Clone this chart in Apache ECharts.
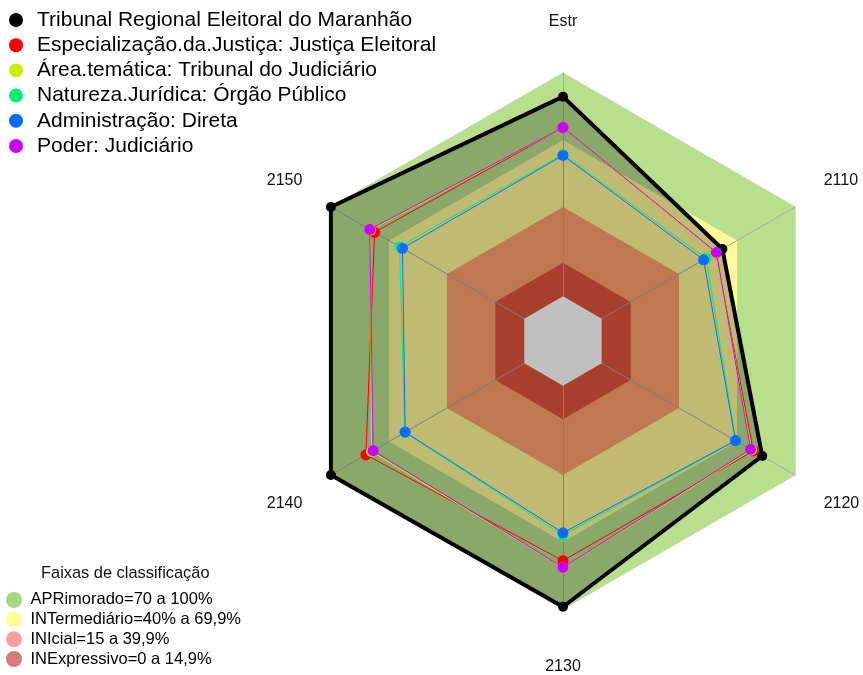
<!DOCTYPE html>
<html>
<head>
<meta charset="utf-8">
<script src="https://cdn.jsdelivr.net/npm/echarts@6/dist/echarts.min.js"></script>
<style>
html,body{margin:0;padding:0;background:#fff;}
#chart{width:863px;height:675px;}
</style>
</head>
<body>
<div id="chart"></div>
<script>
// Indicators in ECharts (counter-clockwise) order: top, upper-left, lower-left, bottom, lower-right, upper-right
var indicatorNames = ['Estr', '2150', '2140', '2130', '2120', '2110'];

var seriesNames = [
  'Tribunal Regional Eleitoral do Maranhão',
  'Especialização.da.Justiça: Justiça Eleitoral',
  'Área.temática: Tribunal do Judiciário',
  'Natureza.Jurídica: Órgão Público',
  'Administração: Direta',
  'Poder: Judiciário'
];
var seriesColors = ['#000000', '#ff0000', '#ccee00', '#00ee77', '#0a6cff', '#cc00ff'];

var valsTRE        = [89.4, 100, 100, 99, 83, 62.4];
var valsEspecial   = [75.5, 77.4, 81.9, 78.4, 78.4, 59];
var valsArea       = [75.5, 79.5, 79, 81.5, 77.5, 59];
var valsNatureza   = [63.5, 64.5, 61.8, 67, 69.3, 54];
var valsAdmin      = [63.1, 63, 61.6, 65.9, 69.2, 52.7];
var valsPoder      = [75.6, 79.9, 78.2, 81.4, 77, 59.3];
var allVals = [valsTRE, valsEspecial, valsArea, valsNatureza, valsAdmin, valsPoder];

var bandNames = ['APRimorado=70 a 100%', 'INTermediário=40% a 69,9%', 'INIcial=15 a 39,9%', 'INExpressivo=0 a 14,9%'];
var bandLevels = [100, 70, 40, 15];
var bandFill = ['#b8e08c', '#fffa9a', '#ffa06b', '#e0553b'];
var bandLegendColor = ['#a9d87c', '#ffff99', '#ff9c9c', '#d87a7a'];
var centerLevel = 0;

var FONT = 'Liberation Sans, Arial, sans-serif';

function fill(v) { return indicatorNames.map(function () { return v; }); }

var series = [];
bandNames.forEach(function (n, i) {
  series.push({
    type: 'radar', name: n, z: 1, silent: true, symbol: 'none',
    itemStyle: { color: bandLegendColor[i] },
    lineStyle: i === 0 ? { color: '#c8c8c8', width: 1 } : { width: 0, opacity: 0 },
    areaStyle: { color: bandFill[i], opacity: 1 },
    data: [{ name: n, value: fill(bandLevels[i]) }]
  });
});

seriesNames.forEach(function (n, i) {
  var isMain = i === 0;
  series.push({
    type: 'radar', name: n, z: isMain ? 3 : 5, silent: true,
    symbol: 'circle', symbolSize: isMain ? 10 : 11,
    itemStyle: { color: seriesColors[i] },
    lineStyle: { color: seriesColors[i], width: isMain ? 4 : 1 },
    areaStyle: isMain ? { color: 'rgba(0,0,0,0.25)', opacity: 1 } : undefined,
    data: [{ name: n, value: allVals[i] }]
  });
});

series.push({
  type: 'radar', name: 'centro', z: 4, silent: true, symbol: 'none',
  lineStyle: { width: 0, opacity: 0 },
  itemStyle: { color: '#c0c0c0' },
  areaStyle: { color: '#c0c0c0', opacity: 1 },
  data: [{ name: 'centro', value: fill(centerLevel) }]
});

var namePad = {
  'Estr': [0, 0, 10, 0],
  '2150': [0, 0, 20, 0],
  '2140': [24, 0, 0, 0],
  '2130': [17, 0, 0, 0],
  '2120': [24, 0, 0, 0],
  '2110': [0, 0, 20, 0]
};
var rich = {};
indicatorNames.forEach(function (n, i) {
  rich['n' + i] = { padding: namePad[n], fontSize: 16, color: '#111', fontFamily: FONT };
});

var option = {
  animation: false,
  backgroundColor: '#ffffff',
  textStyle: { fontFamily: FONT },
  title: {
    text: 'Faixas de classificação',
    left: 36, top: 560,
    textStyle: { fontSize: 16.4, fontWeight: 'normal', color: '#111', fontFamily: FONT }
  },
  legend: [
    {
      data: seriesNames, orient: 'vertical', left: 4, top: 4.5,
      icon: 'circle', itemWidth: 32, itemHeight: 14, itemGap: 4.2,
      selectedMode: false,
      itemStyle: { borderWidth: 0 },
      textStyle: { fontSize: 21, color: '#000', fontFamily: FONT }
    },
    {
      data: bandNames, orient: 'vertical', left: 1, bottom: 2.5, height: 100,
      icon: 'circle', itemWidth: 23, itemHeight: 16, itemGap: 2.7,
      selectedMode: false,
      itemStyle: { borderWidth: 0 },
      textStyle: { fontSize: 16.5, color: '#000', fontFamily: FONT }
    }
  ],
  radar: {
    z: 2,
    center: [563, 341],
    radius: 268,
    startAngle: 90,
    shape: 'polygon',
    splitNumber: 6,
    indicator: indicatorNames.map(function (n) { return { name: n, min: -20, max: 100 }; }),
    axisNameGap: 33,
    axisName: {
      color: '#111', fontSize: 16, fontFamily: FONT,
      formatter: function (name) {
        var i = indicatorNames.indexOf(name);
        return '{n' + i + '|' + name + '}';
      },
      rich: rich
    },
    axisLine: { show: true, lineStyle: { color: '#a8a8a8', width: 1 } },
    splitLine: { show: false },
    splitArea: { show: false },
    axisTick: { show: false },
    axisLabel: { show: false }
  },
  series: series
};

var chart = echarts.init(document.getElementById('chart'), null, { renderer: 'canvas' });
chart.setOption(option);
</script>
</body>
</html>
